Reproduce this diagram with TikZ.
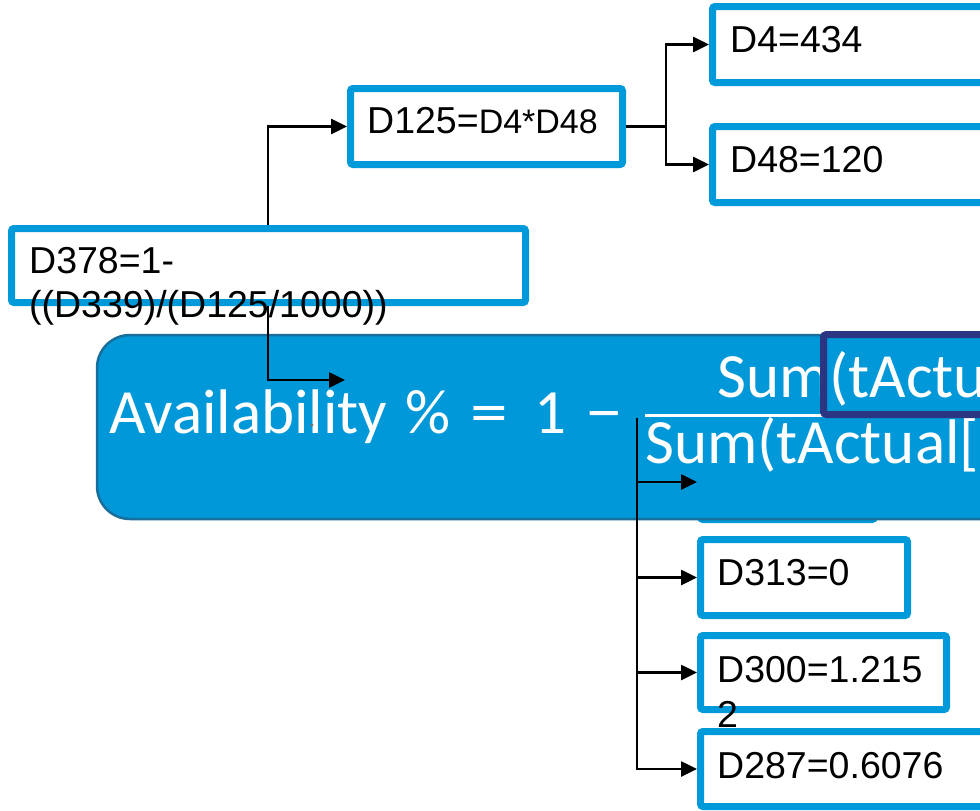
\documentclass[tikz,border=0pt]{standalone}
\usepackage{fontspec}
\setmainfont{Liberation Sans}
\newfontfamily\calfont{Carlito}
\usetikzlibrary{arrows.meta}
\definecolor{boxblue}{RGB}{0,153,218}
\definecolor{panelblue}{RGB}{0,152,216}
\definecolor{paneledge}{RGB}{24,110,156}
\definecolor{navyc}{RGB}{44,53,130}
\tikzset{
 dbox/.style={draw=boxblue, line width=7pt, fill=white, rounded corners=2.5pt, inner sep=0pt},
 lbl/.style={anchor=base west, inner sep=0pt, font=\fontsize{37.5}{44}\selectfont},
 wlbl/.style={anchor=base west, inner sep=0pt, text=white, font=\calfont\fontsize{63}{70}\selectfont},
 conn/.style={line width=2.6pt, -{Triangle[length=16pt,width=15pt]}},
 wire/.style={line width=2.6pt},
}
\begin{document}
\begin{tikzpicture}[x=1pt,y=-1pt]
\useasboundingbox (0,0) rectangle (980,811);
\fill[white] (0,0) rectangle (980,811);
\clip (0,0) rectangle (980,811);

% box hidden behind the formula panel
\node[dbox, minimum width=174pt, minimum height=75pt] (hid) at (787.5,482) {};

% formula panel
\node[draw=paneledge, fill=panelblue, line width=2.5pt, rounded corners=33pt,
      minimum width=933pt, minimum height=184pt, inner sep=0pt] (panel) at (563.5,427) {};
\node[wlbl] (avail) at (109,433) {Availability};
\node[wlbl] (pct) at (405,433) {\%};
\node[wlbl, xscale=1.2, transform shape] (eq) at (470,433) {=};
\node[wlbl] (one) at (534,433) {1};
\node[wlbl, xscale=1.2, transform shape] (minus) at (585,433) {−};
\node[wlbl] (num) at (717,397) {Sum(tActu};
\node[wlbl] (den) at (645,463) {Sum(tActual[};
\fill[black!55] (312,425) circle (1.6pt);
\draw[white, line width=3pt] (645,415) -- (1000,415);
\draw[navyc, line width=7pt, rounded corners=3pt] (823.5,334.5) rectangle (1010,414.5);

% boxes
\node[dbox, minimum width=300pt, minimum height=76pt] (d4) at (862.5,44.5) {};
\node[lbl] (t4) at (730,52) {D4=434};
\node[dbox, minimum width=300pt, minimum height=76pt] (d48) at (862.5,164.5) {};
\node[lbl] (t48) at (730,172) {D48=120};
\node[dbox, minimum width=272pt, minimum height=76pt] (d125) at (486.5,126.5) {};
\node[lbl] (t125) at (367,133) {D125=\fontsize{34}{40}\selectfont D4*D48};
\node[dbox, minimum width=514pt, minimum height=74pt] (d378) at (268.5,265.5) {};
\node[lbl] (t378a) at (29,273) {D378=1-};
\node[lbl] (t378b) at (29,317) {((D339)/(D125/1000))};
\node[dbox, minimum width=207pt, minimum height=76pt] (d313) at (804,577.5) {};
\node[lbl] (t313) at (717,585) {D313=0};
\node[dbox, minimum width=246pt, minimum height=74pt] (d300) at (823.5,672.5) {};
\node[lbl] (t300a) at (717,682) {D300=1.215};
\node[lbl] (t300b) at (717,727) {2};
\node[dbox, minimum width=300pt, minimum height=75pt] (d287) at (850.5,769) {};
\node[lbl] (t287) at (717,778) {D287=0.6076};

% connectors
\coordinate (j1) at (268,0);
\coordinate (e1) at (345,380);
\coordinate (f1) at (666,0);
\coordinate (f2) at (637,418);
\draw[conn] (d378.north -| j1) |- (d125.west);
\draw[conn] (d378.south -| j1) |- (e1);
\draw[wire] (d125.east) -- (d125.east -| f1);
\draw[conn] (d125.east -| f1) |- (d4.west);
\draw[conn] (d125.east -| f1) |- (d48.west);
\draw[conn] (f2) |- (hid.west);
\draw[conn] (f2) |- (d313.west);
\draw[conn] (f2) |- (d300.west);
\draw[conn] (f2) |- (d287.west);
\end{tikzpicture}
\end{document}
